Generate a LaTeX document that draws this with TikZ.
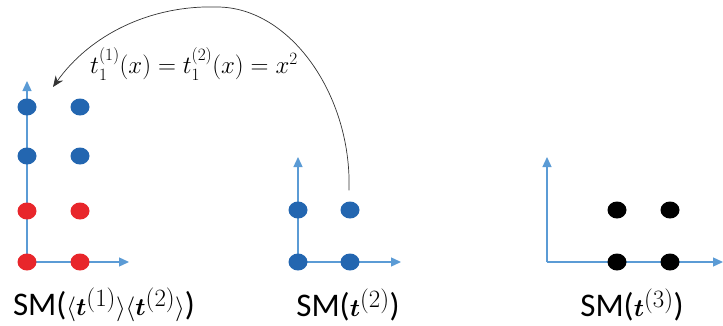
\documentclass[tikz,border=0pt]{standalone}
\usepackage{amsmath}
\usepackage{fontspec}
\setmainfont{Carlito}
\usetikzlibrary{arrows.meta,shapes.geometric}
\definecolor{ejeazul}{HTML}{5B9BD5}
\definecolor{puntoazul}{HTML}{2366B0}
\definecolor{puntorojo}{HTML}{E8262B}
\tikzset{
  eje/.style={ejeazul, line width=1.3pt, -{Triangle[length=10pt,width=9pt]}},
  punto/.style={ellipse, minimum width=19pt, minimum height=17pt, inner sep=0pt},
  etiqueta/.style={font=\fontsize{33}{37}\selectfont}
}
\begin{document}
\begin{tikzpicture}[x=1pt, y=1pt]
    \useasboundingbox (0,0) rectangle (723,325);

    % Ejes de los tres diagramas.
    \coordinate (o1) at (27,63);  \coordinate (y1) at (27,244);  \coordinate (x1) at (129,63);
    \coordinate (o2) at (298,63); \coordinate (y2) at (298,168); \coordinate (x2) at (401,63);
    \coordinate (o3) at (547,63); \coordinate (y3) at (547,168); \coordinate (x3) at (723,63);
    \draw[eje] (o1) -- (y1);
    \draw[eje] (o1) -- (x1);
    \draw[eje] (o2) -- (y2);
    \draw[eje] (o2) -- (x2);
    \draw[eje] (o3) -- (y3);
    \draw[eje] (o3) -- (x3);

    % Puntos: las dos filas de abajo en rojo, las de arriba en azul.
    \foreach \i/\x in {1/27, 2/80} {
        \node[punto, fill=puntorojo] (a\i1) at (\x,63) {};
        \node[punto, fill=puntorojo] (a\i2) at (\x,114) {};
        \node[punto, fill=puntoazul] (a\i3) at (\x,169) {};
        \node[punto, fill=puntoazul] (a\i4) at (\x,218) {};
    }
    \foreach \i/\x in {1/298, 2/350} {
        \node[punto, fill=puntoazul] (b\i1) at (\x,63) {};
        \node[punto, fill=puntoazul] (b\i2) at (\x,115) {};
    }
    \foreach \i/\x in {1/617, 2/670} {
        \node[punto, fill=black] (c\i1) at (\x,63) {};
        \node[punto, fill=black] (c\i2) at (\x,115) {};
    }

    % La flecha curva lleva t^{(2)} al primer diagrama.
    \coordinate (cima) at (217,318);
    \coordinate (punta) at (53,238);
    \draw[black!80, line width=0.7pt, -{Stealth[length=11pt,width=9pt]}]
        ([shift={(-1,11)}]b22.north) .. controls (352,230) and (290,318) .. (cima)
        .. controls (150,320) and (90,290) .. (punta);
    \node[font=\fontsize{26}{30}\selectfont] (formula) at (194,261)
        {$t_1^{(1)}(x) = t_1^{(2)}(x) = x^2$};

    \node[etiqueta] (l1) at (104,20) {SM($\langle\boldsymbol{t}^{(1)}\rangle\langle\boldsymbol{t}^{(2)}\rangle$)};
    \node[etiqueta] (l2) at (348,20) {SM($\boldsymbol{t}^{(2)}$)};
    \node[etiqueta] (l3) at (632,20) {SM($\boldsymbol{t}^{(3)}$)};
\end{tikzpicture}
\end{document}
